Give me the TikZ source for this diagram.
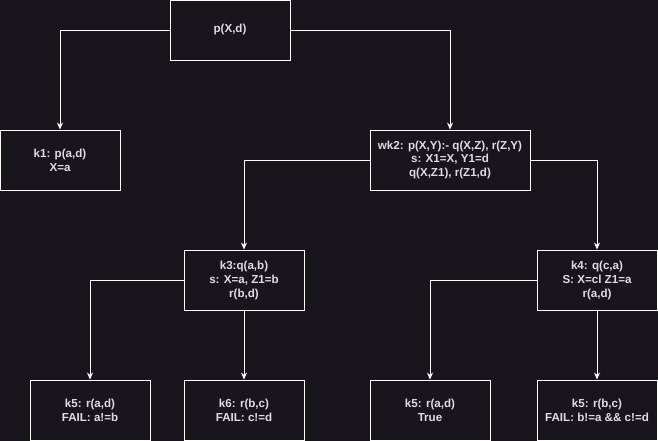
\documentclass[tikz,border=0pt]{standalone}
\usepackage{fontspec}
\setmainfont{Liberation Sans}
\usetikzlibrary{arrows.meta}
\definecolor{bgcol}{RGB}{24,21,29}
\definecolor{txtcol}{RGB}{222,222,222}
\tikzset{
    goal/.style={draw=white, line width=0.9pt, fill=bgcol, text=txtcol,
        minimum width=120pt, minimum height=60pt, inner sep=0pt, align=center,
        font=\fontsize{11.6}{14}\selectfont\bfseries},
    link/.style={draw=white, line width=0.9pt, -{Stealth[length=7pt,width=6pt]}}
}
\begin{document}
\begin{tikzpicture}[x=1pt,y=-1pt]
            \fill[bgcol] (0,0) rectangle (658,441);
            \useasboundingbox (0,0) rectangle (658,441);
            \node[goal] (root) at (230,30) {p(X,d)};
            \node[goal] (k1) at (60,160) {k1: p(a,d)\\X=a};
            \node[goal, minimum width=160pt] (wk2) at (450,160) {wk2: p(X,Y):- q(X,Z), r(Z,Y)\\s: X1=X, Y1=d\\q(X,Z1), r(Z1,d)};
            \node[goal] (k3) at (244,280) {k3:q(a,b)\\s: X=a, Z1=b\\r(b,d)};
            \node[goal] (k4) at (597,280) {k4: q(c,a)\\S: X=cl Z1=a\\r(a,d)};
            \node[goal] (k5a) at (90,410) {k5: r(a,d)\\FAIL: a!=b};
            \node[goal] (k6) at (244,410) {k6: r(b,c)\\FAIL: c!=d};
            \node[goal] (k5b) at (430,410) {k5: r(a,d)\\True};
            \node[goal] (k5c) at (597,410) {k5: r(b,c)\\FAIL: b!=a \&\& c!=d};
            \draw[link] (root.west) -| (k1.north);
            \draw[link] (root.east) -| (wk2.north);
            \draw[link] (wk2.west) -| (k3.north);
            \draw[link] (wk2.east) -| (k4.north);
            \draw[link] (k3.west) -| (k5a.north);
            \draw[link] (k3.south) -- (k6.north);
            \draw[link] (k4.west) -| (k5b.north);
            \draw[link] (k4.south) -- (k5c.north);
        \end{tikzpicture}
\end{document}
